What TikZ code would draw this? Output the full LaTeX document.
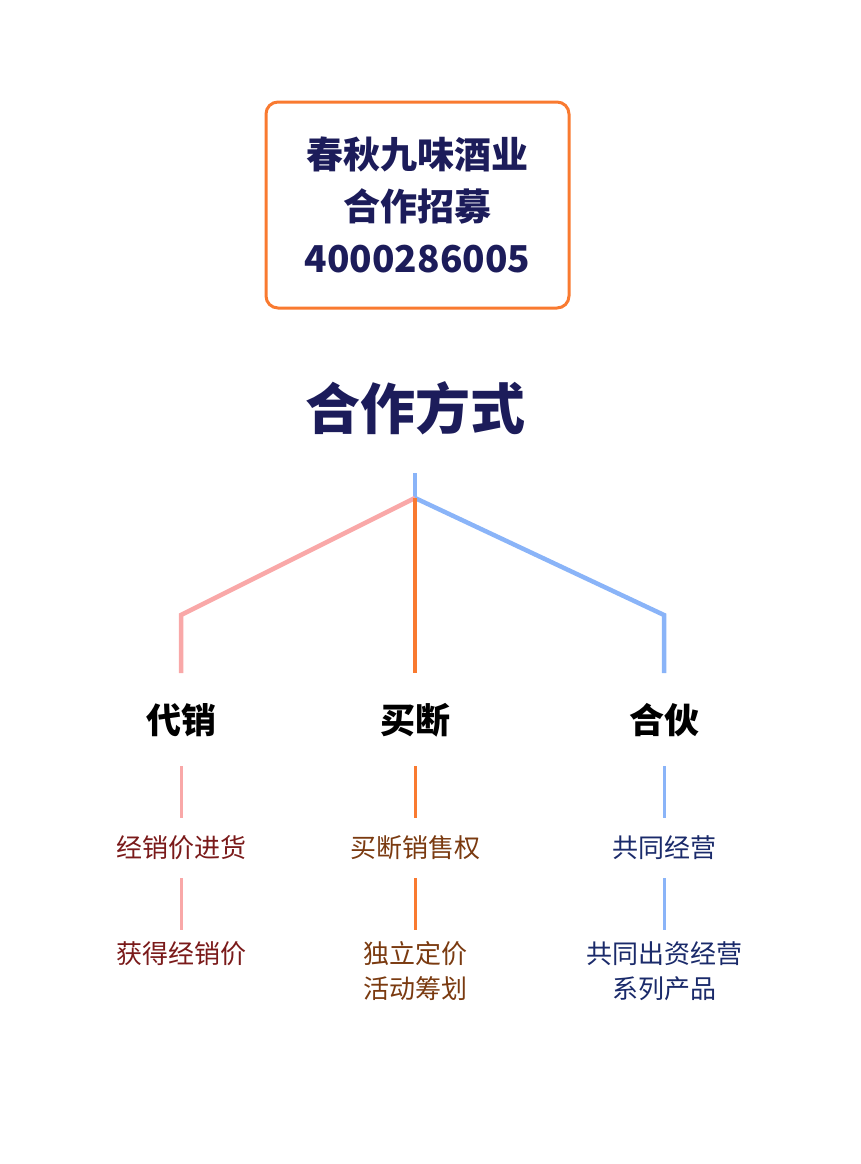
\documentclass[tikz,border=0pt]{standalone}
\usepackage{fontspec}
\setmainfont{Noto Sans CJK SC}
\definecolor{navy}{HTML}{1C1C5A}
\definecolor{pk}{HTML}{F9A8A8}
\definecolor{org}{HTML}{F97A30}
\definecolor{bl}{HTML}{8AB4F8}
\definecolor{dred}{HTML}{7A1A1A}
\definecolor{brn}{HTML}{7A3A10}
\definecolor{dnv}{HTML}{1A2A6A}
\begin{document}
\begin{tikzpicture}[x=1pt,y=-1pt,
  head/.style={font=\fontsize{35}{38}\selectfont\bfseries, text=black},
  sub/.style={font=\fontsize{26}{35}\selectfont, align=center},
  ln/.style={line width=4.5pt}]
\useasboundingbox (0,0) rectangle (860,1164);
\node[draw=org, line width=3pt, rounded corners=12pt, minimum width=303pt, minimum height=206pt] (box) at (417.5,205) {};
\node[font=\fontsize{37}{52}\selectfont\bfseries, text=navy, align=center] (bt) at (417.5,205) {春秋九味酒业\\合作招募\\4000286005};
\node[font=\fontsize{55}{58}\selectfont\bfseries, text=navy] (title) at (415,408) {合作方式};
\coordinate (top) at (415,473);
\coordinate (hub) at (415,498);
\coordinate (lk) at (181,615);
\coordinate (rk) at (664,615);
\coordinate (le) at (181,673);
\coordinate (me) at (415,673);
\coordinate (re) at (664,673);
\draw[ln,bl] (top) -- (hub);
\draw[ln,pk] (hub) -- (lk) -- (le);
\draw[ln,bl] (hub) -- (rk) -- (re);
\draw[ln,org] (hub) -- (me);
\node[head] (a) at (181,720) {代销};
\node[head] (b) at (415,720) {买断};
\node[head] (c) at (664,720) {合伙};
\node[sub,text=dred] (a1) at (181,848) {经销价进货};
\node[sub,text=brn] (b1) at (415,848) {买断销售权};
\node[sub,text=dnv] (c1) at (664,848) {共同经营};
\node[sub,text=dred,anchor=north] (a2) at (181,938) {获得经销价};
\node[sub,text=brn,anchor=north] (b2) at (415,938) {独立定价\\活动筹划};
\node[sub,text=dnv,anchor=north] (c2) at (664,938) {共同出资经营\\系列产品};
\foreach \x/\c in {181/pk,415/org,664/bl}{
  \draw[line width=3pt,\c] (\x,766) -- (\x,818);
  \draw[line width=3pt,\c] (\x,878) -- (\x,930);
}
\end{tikzpicture}
\end{document}
